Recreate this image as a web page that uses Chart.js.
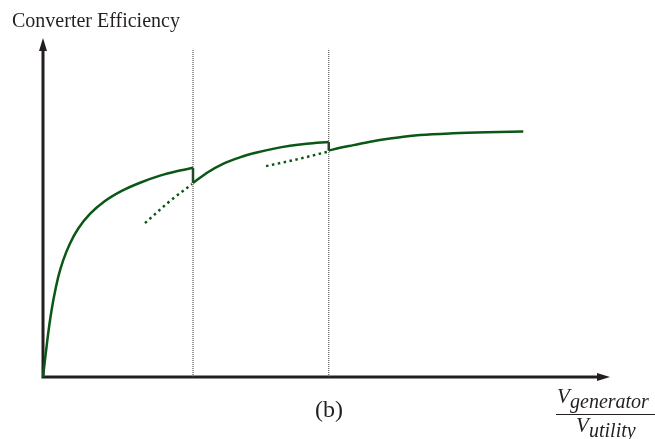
<!DOCTYPE html>
<html>
<head>
<meta charset="utf-8">
<script src="https://cdn.jsdelivr.net/npm/chart.js@4.4.0/dist/chart.umd.min.js"></script>
<style>
html, body { margin: 0; padding: 0; background: #fff; }
#chart { display: block; }
</style>
</head>
<body>
<canvas id="chart" width="655" height="439"></canvas>
<script>
'use strict';

// ratio V_generator / V_utility (arbitrary units) and efficiency (% of axis height)
var curve1X = [0, 0.013, 0.029, 0.047, 0.069, 0.102, 0.135, 0.18, 0.235, 0.313, 0.413, 0.525, 0.647, 0.78, 0.891, 1.0];
var curve1Y = [0, 5.0, 10.9, 16.8, 22.7, 29.6, 34.5, 39.4, 43.8, 48.1, 51.9, 54.9, 57.3, 59.4, 60.7, 61.7];
var curve2X = [1.0, 1.091, 1.2, 1.313, 1.425, 1.533, 1.647, 1.758, 1.905];
var curve2Y = [57.2, 60.2, 62.9, 64.8, 66.2, 67.3, 68.2, 68.8, 69.3];
var curve3X = [1.905, 1.98, 2.069, 2.18, 2.291, 2.402, 2.513, 2.735, 2.958, 3.202];
var curve3Y = [66.8, 67.6, 68.4, 69.4, 70.2, 70.9, 71.4, 71.9, 72.2, 72.4];
var dotted1X = [0.68, 0.833, 0.993];
var dotted1Y = [45.4, 51.4, 56.9];
var dotted2X = [1.487, 1.693, 1.893];
var dotted2Y = [62.2, 64.2, 66.4];
var switchX = [1.0, 1.905];
var switchTop = 96.8;
var xMax = 3.78;
var yMax = 100;

var green = '#0b5716';
var ink = '#231f20';

function pts(xs, ys) {
  return xs.map(function (x, i) { return { x: x, y: ys[i] }; });
}

var datasets = [];
switchX.forEach(function (x) {
  datasets.push({
    data: [{ x: x, y: 0 }, { x: x, y: switchTop }],
    borderColor: '#3a3a3a',
    borderWidth: 1,
    borderDash: [1, 1],
    pointRadius: 0,
    clip: false
  });
});
[[curve1X, curve1Y], [curve2X, curve2Y], [curve3X, curve3Y]].forEach(function (c) {
  datasets.push({
    data: pts(c[0], c[1]),
    borderColor: green,
    borderWidth: 2.5,
    cubicInterpolationMode: 'monotone',
    pointRadius: 0,
    clip: false
  });
});
// jumps at the switching points
datasets.push({
  data: [{ x: curve1X[curve1X.length - 1], y: curve1Y[curve1Y.length - 1] }, { x: curve2X[0], y: curve2Y[0] }],
  borderColor: green, borderWidth: 2.5, pointRadius: 0, clip: false
});
datasets.push({
  data: [{ x: curve2X[curve2X.length - 1], y: curve2Y[curve2Y.length - 1] }, { x: curve3X[0], y: curve3Y[0] }],
  borderColor: green, borderWidth: 2.5, pointRadius: 0, clip: false
});
[[dotted1X, dotted1Y], [dotted2X, dotted2Y]].forEach(function (c) {
  datasets.push({
    data: pts(c[0], c[1]),
    borderColor: green,
    borderWidth: 2.5,
    borderDash: [2.5, 3.5],
    cubicInterpolationMode: 'monotone',
    pointRadius: 0,
    clip: false
  });
});

var axesAndLabels = {
  id: 'axesAndLabels',
  beforeDatasetsDraw: function (chart) {
    var c = chart.ctx;
    var x0 = chart.scales.x.getPixelForValue(0);
    var y0 = chart.scales.y.getPixelForValue(0);
    var xEnd = chart.scales.x.getPixelForValue(xMax);
    var yEnd = chart.scales.y.getPixelForValue(yMax);
    c.save();
    c.strokeStyle = ink;
    c.fillStyle = ink;
    c.lineWidth = 3;
    c.beginPath();
    c.moveTo(x0, y0 + 1.5);
    c.lineTo(x0, yEnd + 10);
    c.moveTo(x0 - 1.5, y0);
    c.lineTo(xEnd - 10, y0);
    c.stroke();
    c.beginPath();
    c.moveTo(x0, yEnd);
    c.lineTo(x0 - 4, yEnd + 13);
    c.lineTo(x0 + 4, yEnd + 13);
    c.closePath();
    c.fill();
    c.beginPath();
    c.moveTo(xEnd, y0);
    c.lineTo(xEnd - 13, y0 - 4);
    c.lineTo(xEnd - 13, y0 + 4);
    c.closePath();
    c.fill();
    c.restore();
  },
  afterDraw: function (chart) {
    var c = chart.ctx;
    c.save();
    c.fillStyle = ink;
    c.textBaseline = 'alphabetic';
    c.textAlign = 'left';
    c.font = '20px "Liberation Serif"';
    c.fillText('Converter Efficiency', 12, 27);
    c.textAlign = 'center';
    c.font = '24px "Liberation Serif"';
    c.fillText('(b)', 329, 417);
    c.textAlign = 'left';
    c.font = 'italic 21px "Liberation Serif"';
    c.fillText('V', 557, 403);
    c.fillText('V', 576, 432);
    c.font = 'italic 20px "Liberation Serif"';
    c.fillText('generator', 570, 408);
    c.fillText('utility', 589, 437);
    c.strokeStyle = ink;
    c.lineWidth = 1.2;
    c.beginPath();
    c.moveTo(556, 414.5);
    c.lineTo(655, 414.5);
    c.stroke();
    c.restore();
  }
};

new Chart(document.getElementById('chart'), {
  type: 'line',
  data: { datasets: datasets },
  options: {
    responsive: false,
    animation: false,
    layout: { padding: { left: 43, top: 38, right: 45, bottom: 62 } },
    plugins: { legend: { display: false }, tooltip: { enabled: false } },
    scales: {
      x: { type: 'linear', min: 0, max: xMax, display: false },
      y: { min: 0, max: yMax, display: false }
    }
  },
  plugins: [axesAndLabels]
});
</script>
</body>
</html>
